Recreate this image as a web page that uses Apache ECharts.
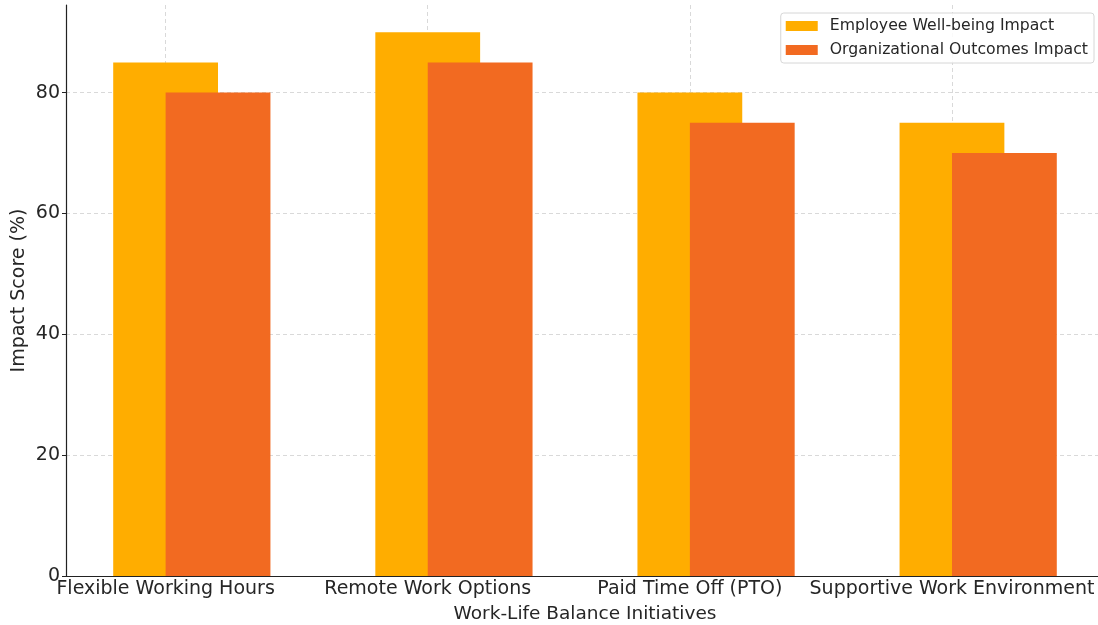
<!DOCTYPE html>
<html>
<head>
<meta charset="utf-8">
<script src="https://cdn.jsdelivr.net/npm/echarts@6/dist/echarts.min.js"></script>
<style>html,body{margin:0;padding:0;background:#fff;}#c{width:1098px;height:625px;}</style>
</head>
<body>
<div id="c"></div>
<script>
const categories = ['Flexible Working Hours', 'Remote Work Options', 'Paid Time Off (PTO)', 'Supportive Work Environment'];
const wellbeing = [85, 90, 80, 75];
const organizational = [80, 85, 75, 70];
const yTicks = [0, 20, 40, 60, 80];
const seriesNames = ['Employee Well-being Impact', 'Organizational Outcomes Impact'];

const FONT = 'DejaVu Sans';
const TXT = '#262626';
const chart = echarts.init(document.getElementById('c'), null, {renderer: 'canvas'});
const catIdx = categories.map((c, i) => i);

chart.setOption({
  animation: false,
  grid: {left: 66, width: 1038, top: 5, height: 571, containLabel: false, outerBoundsMode: 'none'},
  legend: {
    orient: 'vertical', right: 4, top: 13,
    data: seriesNames,
    icon: 'rect', itemWidth: 32, itemHeight: 10, itemGap: 8,
    padding: [5, 6, 5, 5],
    borderColor: '#d6d6d6', borderWidth: 1, borderRadius: 3,
    backgroundColor: 'rgba(255,255,255,0.85)',
    textStyle: {fontFamily: FONT, fontSize: 15.7, color: TXT, padding: [0, 0, 0, 7]}
  },
  xAxis: {
    type: 'value', min: -0.38, max: 3.58, minInterval: 1, maxInterval: 1,
    name: 'Work-Life Balance Initiatives', nameLocation: 'middle', nameGap: 29,
    nameTextStyle: {fontFamily: FONT, fontSize: 18.5, color: TXT},
    axisLine: {show: true, onZero: false, lineStyle: {color: '#222', width: 1.2}},
    axisTick: {show: true, inside: true, length: 4, customValues: catIdx, lineStyle: {color: '#222'}},
    axisLabel: {customValues: catIdx, fontFamily: FONT, fontSize: 19, color: TXT, margin: 4,
      formatter: v => categories[Math.round(v)] || ''},
    splitLine: {show: true, lineStyle: {color: '#d9d9d9', type: [4, 3], width: 1}}
  },
  yAxis: {
    type: 'value', min: 0, max: 94.5, minInterval: 20, maxInterval: 20,
    name: 'Impact Score (%)', nameLocation: 'middle', nameGap: 37, nameMoveOverlap: false,
    nameTextStyle: {fontFamily: FONT, fontSize: 19, color: TXT},
    axisLine: {show: true, onZero: false, lineStyle: {color: '#222', width: 1.2}},
    axisTick: {show: true, length: 4, customValues: yTicks, lineStyle: {color: '#222'}},
    axisLabel: {customValues: yTicks, fontFamily: FONT, fontSize: 19, color: TXT, margin: 6},
    splitLine: {show: true, lineStyle: {color: '#d9d9d9', type: [4, 3], width: 1}}
  },
  series: [
    {
      name: seriesNames[0], type: 'bar', barWidth: 104.8, barGap: '-100%',
      itemStyle: {color: '#FFAD00'},
      data: wellbeing.map((v, i) => [i, v])
    },
    {
      name: seriesNames[1], type: 'bar', barWidth: 104.8, barGap: '-100%',
      itemStyle: {color: '#F26A21'},
      data: organizational.map((v, i) => [i + 0.2, v])
    }
  ]
});
</script>
</body>
</html>
